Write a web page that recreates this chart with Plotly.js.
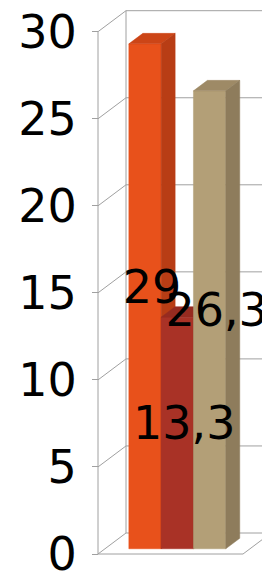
<!DOCTYPE html>
<html><head><meta charset="utf-8">
<script src="https://cdn.plot.ly/plotly-3.0.1.min.js"></script>
<style>html,body{margin:0;padding:0;background:#fff;overflow:hidden}#chart{width:262px;height:572px}</style>
</head><body><div id="chart"></div>
<script>
// ---- data ----
const series = ['Serie 1', 'Serie 2', 'Serie 3'];
const values = [29, 13.3, 26.3];
const tickValues = [0, 5, 10, 15, 20, 25, 30];
const tickLabels = ['0', '5', '10', '15', '20', '25', '30'];
const frontColors = ['#E8511B', '#A93226', '#B39F77'];
const topColors = ['#CC4517', '#962B20', '#9E8A66'];
const sideColors = ['#B83D15', '#85261C', '#8E7C5C'];

// ---- geometry (pseudo-3D oblique projection) ----
const W = 262, H = 572, L = 96;
const pxX = 32.3, cx0 = 138, pxY = 17.41, y0 = 554;
const xRange = [(L - cx0) / pxX, (W - cx0) / pxX];
const yRange = [(y0 - H) / pxY, y0 / pxY];
const DX = 28 / pxX, DY = 21 / pxY;
const wallX = (98 - cx0) / pxX;
const floorRight = (243 - cx0) / pxX;
const yMax = tickValues[tickValues.length - 1];
const gridColor = '#a0a0a0';
const fontSize = 46;

function P(x, y, d) { return [x + d * DX, y + d * DY]; }

const traces = [];
// grid / walls
const gx = [], gy = [];
function seg(a, b) { gx.push(a[0], b[0], null); gy.push(a[1], b[1], null); }
seg(P(wallX, 0, 0), P(wallX, yMax, 0));
seg(P(wallX, 0, 1), P(wallX, yMax, 1));
tickValues.forEach(t => {
  seg(P(wallX, t, 0), P(wallX, t, 1));
  seg(P(wallX, t, 1), P(floorRight, t, 1));
});
seg(P(floorRight, 0, 1), P(floorRight, yMax, 1));
seg(P(wallX, 0, 0), P(floorRight, 0, 0));
seg(P(floorRight, 0, 0), P(floorRight, 0, 1));
traces.push({type: 'scatter', mode: 'lines', x: gx, y: gy, line: {color: gridColor, width: 1}, hoverinfo: 'skip'});

function face(pts, color) {
  traces.push({
    type: 'scatter', mode: 'lines', fill: 'toself', fillcolor: color,
    x: pts.map(p => p[0]).concat([pts[0][0]]),
    y: pts.map(p => p[1]).concat([pts[0][1]]),
    line: {color: color, width: 0.5}, hoverinfo: 'skip'
  });
}
const d0 = 0.25, d1 = 0.75;
values.forEach((v, i) => {
  const xl = i - 0.5, xr = i + 0.5;
  face([P(xl, 0, d0), P(xr, 0, d0), P(xr, v, d0), P(xl, v, d0)], frontColors[i]);
  face([P(xl, v, d0), P(xr, v, d0), P(xr, v, d1), P(xl, v, d1)], topColors[i]);
  face([P(xr, 0, d0), P(xr, 0, d1), P(xr, v, d1), P(xr, v, d0)], sideColors[i]);
});

// labels
traces.push({
  type: 'scatter', mode: 'text',
  x: values.map((v, i) => i + 0.5 * DX),
  y: values.map(v => v / 2 + 0.5 * DY),
  text: values.map(v => String(v).replace('.', ',')),
  textposition: 'middle center',
  textfont: {family: 'DejaVu Sans', size: fontSize, color: '#000'},
  cliponaxis: false, hoverinfo: 'skip'
});

const layout = {
  width: W, height: H,
  margin: {l: L, r: 0, t: 0, b: 0},
  showlegend: false,
  paper_bgcolor: '#fff', plot_bgcolor: '#fff',
  hovermode: false,
  xaxis: {range: xRange, visible: false, domain: [0, 1], fixedrange: true},
  yaxis: {
    range: yRange, anchor: 'free', position: (98 - L) / (W - L),
    tickmode: 'array', tickvals: tickValues, ticktext: tickLabels,
    ticks: 'outside', ticklen: 6, tickcolor: gridColor, tickwidth: 1,
    tickfont: {family: 'DejaVu Sans', size: fontSize, color: '#000'},
    ticklabelstandoff: 6, ticklabeloverflow: 'allow',
    showgrid: false, zeroline: false, showline: false, fixedrange: true
  }
};
Plotly.newPlot('chart', traces, layout, {staticPlot: true, displayModeBar: false});
</script>
</body></html>
